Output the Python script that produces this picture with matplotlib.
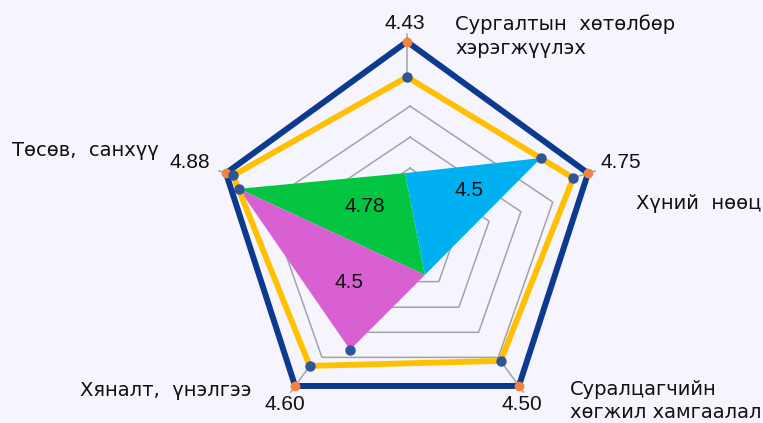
import numpy as np
import matplotlib.pyplot as plt

# ── data ─────────────────────────────────────
# axes go clockwise from the top
categories = [
    "Сургалтын  хөтөлбөр\nхэрэгжүүлэх",
    "Хүний  нөөц",
    "Суралцагчийн\nхөгжил хамгаалал",
    "Хяналт,  үнэлгээ",
    "Төсөв,  санхүү",
]
scores = [4.43, 4.75, 4.50, 4.60, 4.88]
score_labels = ["4.43", "4.75", "4.50", "4.60", "4.88"]
max_score = 5.0
grid_levels = [0.73, 1.24, 1.74, 2.24]   # inner reference rings

# coloured wedges, corners given as (angle in degrees, score)
green_tri = [(165.6, 4.73), (91.9, 2.88), (-67.3, 2.68)]
blue_tri = [(91.9, 2.88), (28.9, 4.40), (-67.3, 2.68)]
pink_tri = [(165.6, 4.73), (-67.3, 2.68), (-115.8, 4.04)]
tri_values = ["4.78", "4.5", "4.5"]

# ── geometry / style ─────────────────────────
W, H = 763, 423
R_MIN = 1.93          # score at the centre of the radar
PX = 62.0             # pixels per score unit
CX, CY = 407, 232     # radar centre in pixels
GRID_OFF = (0.05, -0.21)
GRID_XSTRETCH = 1.08

angles = [90, 18, -54, -126, 162]

NAVY = "#0c3a8e"
YELLOW = "#ffc000"
ORANGE = "#f5843a"
DOT = "#2f5597"
GREY = "#a3a3a3"
BG = "#f6f5fd"

NUM_FONT = "Liberation Sans"
CAT_FONT = "DejaVu Sans"


def to_xy(angle, value):
    r = value - R_MIN
    a = np.radians(angle)
    return r * np.cos(a), r * np.sin(a)


def closed(pts):
    xs = [p[0] for p in pts] + [pts[0][0]]
    ys = [p[1] for p in pts] + [pts[0][1]]
    return xs, ys


fig = plt.figure(figsize=(W / 100, H / 100), dpi=100, facecolor=BG)
ax = fig.add_axes([0, 0, 1, 1])
ax.set_facecolor(BG)
ax.set_xlim(-CX / PX, (W - CX) / PX)
ax.set_ylim(-(H - CY) / PX, CY / PX)
ax.axis("off")

# grey reference rings
for lev in grid_levels:
    pts = [(GRID_OFF[0] + GRID_XSTRETCH * lev * np.cos(np.radians(a)),
            GRID_OFF[1] + lev * np.sin(np.radians(a))) for a in angles]
    xs, ys = closed(pts)
    ax.plot(xs, ys, color=GREY, lw=1.1, zorder=1)

# short spokes between the score ring and the outer ring
for a, s in zip(angles, scores):
    x0, y0 = to_xy(a, s)
    x1, y1 = to_xy(a, max_score + 0.12)
    ax.plot([x0, x1], [y0, y1], color=GREY, lw=1.1, zorder=1)

# coloured wedges
for tri, col in zip([green_tri, blue_tri, pink_tri],
                    ["#03c542", "#00b0f0", "#d960d2"]):
    pts = [to_xy(a, v) for a, v in tri]
    xs, ys = closed(pts)
    ax.fill(xs, ys, color=col, lw=0, zorder=2)

# wedge labels
label_px = [(365, 206), (469, 190), (349, 282)]
for txt, (lx, ly) in zip(tri_values, label_px):
    fig.text(lx / W, 1 - ly / H, txt, ha="center", va="center",
             fontsize=15, family=NUM_FONT, color="#111111", zorder=5)

# score ring and outer ring
score_pts = [to_xy(a, s) for a, s in zip(angles, scores)]
outer_pts = [to_xy(a, max_score) for a in angles]
xs, ys = closed(score_pts)
ax.plot(xs, ys, color=YELLOW, lw=4.2, zorder=3, solid_joinstyle="miter")
xs, ys = closed(outer_pts)
ax.plot(xs, ys, color=NAVY, lw=4.3, zorder=3, solid_joinstyle="miter")

# markers
ax.plot([p[0] for p in outer_pts], [p[1] for p in outer_pts], "o",
        color=ORANGE, ms=6, zorder=4)
ax.plot([p[0] for p in score_pts], [p[1] for p in score_pts], "o",
        color=DOT, ms=6.5, zorder=4)
extra = [green_tri[0], blue_tri[1], pink_tri[2]]
ex = [to_xy(a, v) for a, v in extra]
ax.plot([p[0] for p in ex], [p[1] for p in ex], "o",
        color=DOT, ms=6.5, zorder=4)

# score labels next to the outer ring
offsets = [(-2, 18), (33, 11), (3, -19), (-10, -19), (-36, 11)]
for p, lab, off in zip(outer_pts, score_labels, offsets):
    ax.annotate(lab, xy=p, xytext=off, textcoords="offset pixels",
                ha="center", va="center", fontsize=15, family=NUM_FONT,
                color="#111111", zorder=5)

# category names
cat_pos = [(455, 36, "left"), (636, 203, "left"), (570, 401, "left"),
           (252, 390, "right"), (12, 150, "left")]
for name, (x, y, ha) in zip(categories, cat_pos):
    fig.text(x / W, 1 - y / H, name, ha=ha, va="center", fontsize=14,
             family=CAT_FONT, color="#111111", linespacing=1.3)

fig.savefig("out.png", dpi=100, facecolor=BG)
